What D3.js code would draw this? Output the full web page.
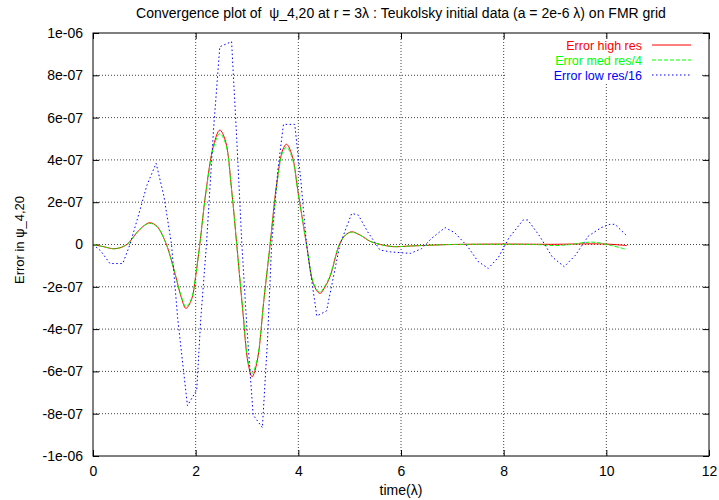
<!DOCTYPE html>
<html>
<head>
<meta charset="utf-8">
<script src="https://cdn.jsdelivr.net/npm/d3@7/dist/d3.min.js"></script>
<style>
  body { margin: 0; background: #fff; }
  text { font-family: "Liberation Sans", Arial, sans-serif; font-size: 14px; }
</style>
</head>
<body>
<div id="chart-area"></div>
<script>
// values in units of 1e-7
var tHigh = [0, 0.2, 0.43, 0.66, 0.85, 1.0, 1.11, 1.25, 1.43, 1.6, 1.72, 1.81, 1.92, 2.0, 2.08, 2.2, 2.35, 2.47, 2.58, 2.7, 2.8, 2.92, 3.02, 3.1, 3.2, 3.33, 3.45, 3.58, 3.7, 3.77, 3.88, 4.0, 4.16, 4.3, 4.42, 4.52, 4.62, 4.8, 4.92, 5.04, 5.2, 5.4, 5.6, 5.84, 6.2, 6.6, 7.0, 8.0, 9.0, 9.6, 10.0, 10.4];
var errHigh = [0, -0.1, -0.2, 0, 0.55, 0.9, 1.03, 0.85, 0, -1.4, -2.5, -3.02, -2.6, -1.5, 0, 2.5, 4.7, 5.41, 4.9, 2.6, 0, -3.2, -5.6, -6.25, -5.5, -2.6, 0, 2.9, 4.5, 4.74, 4.2, 2.4, 0, -1.9, -2.31, -2.0, -1.5, 0, 0.45, 0.6, 0.45, 0.15, 0, -0.1, -0.07, -0.03, 0, 0.02, 0.01, 0.03, 0.02, -0.05];

var tMed = [0, 0.2, 0.43, 0.66, 0.85, 1.0, 1.11, 1.25, 1.43, 1.6, 1.72, 1.81, 1.92, 2.0, 2.08, 2.2, 2.35, 2.47, 2.58, 2.7, 2.8, 2.92, 3.02, 3.1, 3.2, 3.33, 3.45, 3.58, 3.7, 3.77, 3.88, 4.0, 4.16, 4.3, 4.42, 4.52, 4.62, 4.8, 4.92, 5.04, 5.2, 5.4, 5.6, 5.84, 6.2, 6.6, 7.0, 8.0, 8.6, 9.0, 9.3, 9.6, 9.8, 10.1, 10.36];
var errMed = [0, -0.1, -0.2, 0, 0.55, 0.9, 1.0, 0.83, 0, -1.4, -2.45, -2.95, -2.55, -1.45, 0, 2.45, 4.6, 5.25, 4.8, 2.55, 0, -3.1, -5.5, -6.1, -5.4, -2.55, 0, 2.8, 4.4, 4.6, 4.1, 2.35, 0, -1.85, -2.25, -1.95, -1.45, 0, 0.45, 0.58, 0.45, 0.15, 0, -0.1, -0.07, -0.03, 0, 0.01, 0, -0.05, 0, 0.1, 0.1, -0.05, -0.21];

var tLow = [0, 0.15, 0.33, 0.58, 0.72, 0.9, 1.05, 1.23, 1.38, 1.53, 1.65, 1.84, 2.02, 2.1, 2.21, 2.35, 2.47, 2.7, 2.8, 2.9, 3.0, 3.12, 3.3, 3.4, 3.48, 3.6, 3.71, 3.93, 4.05, 4.16, 4.36, 4.55, 4.62, 4.81, 5.04, 5.17, 5.35, 5.59, 5.8, 6.18, 6.4, 6.6, 6.86, 7.05, 7.3, 7.5, 7.7, 7.9, 8.1, 8.38, 8.47, 8.7, 8.95, 9.18, 9.4, 9.65, 9.9, 10.07, 10.17, 10.38];
var errLow = [0, -0.3, -0.9, -0.9, 0, 1.5, 2.8, 3.84, 2.3, 0, -3.5, -7.62, -6.88, -3.5, 0, 5.5, 9.35, 9.59, 5.0, 0, -4.0, -8.06, -8.66, -4.5, 0, 3.5, 5.68, 5.68, 3.0, 0, -3.38, -3.14, -2.3, 0, 1.47, 1.39, 0.6, -0.26, -0.35, -0.42, -0.2, 0.3, 0.8, 0.55, -0.1, -0.8, -1.13, -0.6, 0.3, 1.16, 1.16, 0.4, -0.6, -1.05, -0.5, 0.4, 0.8, 0.955, 0.955, 0.45];

var xTicks = [0, 2, 4, 6, 8, 10, 12];
var yTicks = [-10, -8, -6, -4, -2, 0, 2, 4, 6, 8, 10];
var yTickLabels = ["-1e-06", "-8e-07", "-6e-07", "-4e-07", "-2e-07", "0", "2e-07", "4e-07", "6e-07", "8e-07", "1e-06"];

var seriesNames = ["Error high res", "Error med res/4", "Error low res/16"];
var seriesColors = ["#ff0000", "#00ff00", "#0000ff"];

var margin = {top: 33, right: 10, bottom: 44, left: 93};
var width = 719 - margin.left - margin.right;
var height = 500 - margin.top - margin.bottom;

var svg = d3.select("#chart-area")
    .append("svg")
        .attr("width", 719)
        .attr("height", 500);

var g = svg.append("g")
    .attr("transform", "translate(" + margin.left + "," + margin.top + ")");

var x = d3.scaleLinear().domain([0, 12]).range([0, width]);
var y = d3.scaleLinear().domain([-10, 10]).range([height, 0]);

// grid
g.selectAll(".vgrid")
    .data(xTicks.slice(1, -1))
    .enter().append("line")
        .attr("x1", (d) => x(d)).attr("x2", (d) => x(d))
        .attr("y1", 0).attr("y2", height)
        .attr("stroke", "#444").attr("stroke-width", 1)
        .attr("stroke-dasharray", "1,2");

g.selectAll(".hgrid")
    .data(yTicks.slice(1, -1))
    .enter().append("line")
        .attr("x1", 0).attr("x2", width)
        .attr("y1", (d) => y(d)).attr("y2", (d) => y(d))
        .attr("stroke", "#444").attr("stroke-width", 1)
        .attr("stroke-dasharray", "1,2");

// blank area behind the key
g.append("rect")
    .attr("x", 412).attr("y", 4)
    .attr("width", width - 412 - 7).attr("height", 45)
    .attr("fill", "#fff");

// axes with inward ticks on all sides
var tickLen = 6;
g.append("g")
    .attr("transform", "translate(0," + height + ")")
    .call(d3.axisBottom(x).tickValues(xTicks).tickSizeInner(-tickLen).tickSizeOuter(0).tickPadding(10))
    .call((a) => a.select(".domain").remove());
g.append("g")
    .call(d3.axisTop(x).tickValues(xTicks).tickSizeInner(-tickLen).tickSizeOuter(0).tickFormat(""))
    .call((a) => a.select(".domain").remove());
g.append("g")
    .call(d3.axisLeft(y).tickValues(yTicks).tickSizeInner(-tickLen).tickSizeOuter(0).tickPadding(10)
        .tickFormat((d, i) => yTickLabels[i]))
    .call((a) => a.select(".domain").remove());
g.append("g")
    .attr("transform", "translate(" + width + ",0)")
    .call(d3.axisRight(y).tickValues(yTicks).tickSizeInner(-tickLen).tickSizeOuter(0).tickFormat(""))
    .call((a) => a.select(".domain").remove());

g.selectAll(".tick text")
    .attr("fill", "#000")
    .style("font-size", "14px")
    .style("font-family", "Liberation Sans, Arial, sans-serif");

g.append("rect")
    .attr("width", width).attr("height", height)
    .attr("fill", "none").attr("stroke", "#000").attr("stroke-width", 1);

// curves
var smooth = d3.line()
    .x((d) => x(d[0]))
    .y((d) => y(d[1]))
    .curve(d3.curveCatmullRom.alpha(0.5));
var straight = d3.line()
    .x((d) => x(d[0]))
    .y((d) => y(d[1]));

g.append("path")
    .datum(d3.zip(tHigh, errHigh))
    .attr("d", smooth)
    .attr("fill", "none").attr("stroke", seriesColors[0]).attr("stroke-width", 1);

g.append("path")
    .datum(d3.zip(tMed, errMed))
    .attr("d", smooth)
    .attr("fill", "none").attr("stroke", seriesColors[1]).attr("stroke-width", 1)
    .attr("stroke-dasharray", "4,2");

g.append("path")
    .datum(d3.zip(tLow, errLow))
    .attr("d", straight)
    .attr("fill", "none").attr("stroke", seriesColors[2]).attr("stroke-width", 1)
    .attr("stroke-dasharray", "1.5,2.5");

// key
var dashes = [null, "4,2", "1.5,2.5"];
seriesNames.forEach((name, i) => {
    var ky = 12 + i * 15;
    g.append("text")
        .attr("x", 549).attr("y", ky + 4.5)
        .attr("text-anchor", "end")
        .attr("fill", seriesColors[i])
        .style("font-size", "12.5px")
        .text(name);
    g.append("line")
        .attr("x1", 559).attr("x2", 598)
        .attr("y1", ky).attr("y2", ky)
        .attr("stroke", seriesColors[i]).attr("stroke-width", 1)
        .attr("stroke-dasharray", dashes[i]);
});

// titles
svg.append("text")
    .attr("x", margin.left + width / 2).attr("y", 18)
    .attr("text-anchor", "middle")
    .style("white-space", "pre")
    .text("Convergence plot of  \u03c8_4,20 at r = 3\u03bb : Teukolsky initial data (a = 2e-6 \u03bb) on FMR grid");

svg.append("text")
    .attr("x", margin.left + width / 2).attr("y", 495)
    .attr("text-anchor", "middle")
    .text("time(\u03bb)");

svg.append("text")
    .attr("transform", "translate(24,240) rotate(-90)")
    .attr("text-anchor", "middle")
    .style("font-size", "13px")
    .text("Error in \u03c8_4,20");
</script>
</body>
</html>
